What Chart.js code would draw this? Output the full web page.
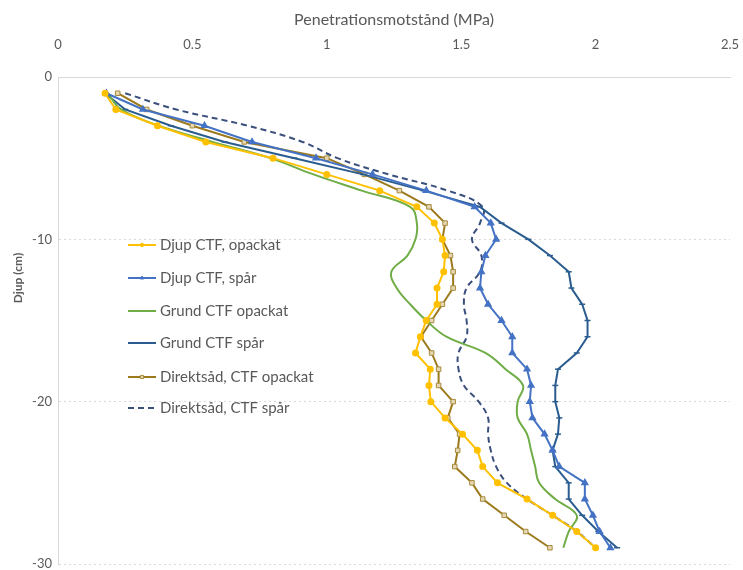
<!DOCTYPE html>
<html>
<head>
<meta charset="utf-8">
<script src="https://cdn.jsdelivr.net/npm/chart.js@4.4.0/dist/chart.umd.min.js"></script>
<style>
  html, body { margin: 0; padding: 0; background: #fff; }
  #wrap { width: 743px; height: 570px; }
</style>
</head>
<body>
<div id="wrap"><canvas id="penChart"></canvas></div>
<script>
// depth in cm (negative downwards)
const depths = [-1, -2, -3, -4, -5, -6, -7, -8, -9, -10, -11, -12, -13, -14, -15,
  -16, -17, -18, -19, -20, -21, -22, -23, -24, -25, -26, -27, -28, -29];

const seriesNames = ['Djup CTF, opackat', 'Djup CTF, spår', 'Grund CTF opackat',
  'Grund CTF spår', 'Direktsåd, CTF opackat', 'Direktsåd, CTF spår'];

const djupOpackat = [0.175, 0.215, 0.37, 0.55, 0.80, 1.00, 1.197, 1.335, 1.40, 1.43,
  1.44, 1.435, 1.41, 1.41, 1.37, 1.348, 1.33, 1.385, 1.38, 1.387,
  1.44, 1.505, 1.56, 1.58, 1.635, 1.745, 1.84, 1.93, 2.00];

const djupSpar = [0.18, 0.316, 0.545, 0.722, 0.96, 1.17, 1.37, 1.55, 1.61, 1.63,
  1.59, 1.575, 1.57, 1.60, 1.65, 1.69, 1.69, 1.745, 1.76, 1.755,
  1.765, 1.81, 1.84, 1.865, 1.96, 1.96, 1.99, 2.015, 2.055];

const grundOpackat = [0.185, 0.235, 0.375, 0.575, 0.79, 0.95, 1.13, 1.31, 1.335, 1.33,
  1.30, 1.24, 1.26, 1.31, 1.37, 1.445, 1.59, 1.665, 1.73, 1.71,
  1.71, 1.745, 1.76, 1.775, 1.79, 1.85, 1.93, 1.90, 1.88];

const grundSpar = [0.175, 0.25, 0.42, 0.62, 0.88, 1.135, 1.36, 1.57, 1.65, 1.75,
  1.83, 1.90, 1.91, 1.95, 1.97, 1.97, 1.93, 1.86, 1.85, 1.85,
  1.865, 1.86, 1.84, 1.85, 1.90, 1.90, 1.95, 2.01, 2.08];

const direktOpackat = [0.222, 0.33, 0.50, 0.693, 1.00, 1.14, 1.27, 1.38, 1.44, 1.43,
  1.46, 1.47, 1.47, 1.43, 1.39, 1.35, 1.39, 1.416, 1.416, 1.47,
  1.45, 1.494, 1.487, 1.476, 1.54, 1.58, 1.66, 1.74, 1.83];

const direktSpar = [0.25, 0.44, 0.705, 0.91, 1.04, 1.23, 1.45, 1.58, 1.57, 1.54,
  1.575, 1.57, 1.52, 1.51, 1.52, 1.52, 1.49, 1.49, 1.51, 1.565,
  1.60, 1.60, 1.61, 1.63, 1.67, 1.745, 1.84, 1.93, 2.00];

const xTicks = [0, 0.5, 1, 1.5, 2, 2.5];
const yTicks = [0, -10, -20, -30];

function toPoints(vals) {
  return vals.map((v, i) => ({ x: v, y: depths[i] }));
}

const textColor = '#595959';
const gridColor = '#d9d9d9';
const fontFam = 'Lato, "Open Sans", sans-serif';

// custom legend drawn inside the plot area, like the original
const insideLegend = {
  id: 'insideLegend',
  afterDraw(chart) {
    const ctx = chart.ctx;
    const rowsY = [245, 278, 311, 343, 377, 408];
    ctx.save();
    chart.data.datasets.forEach((ds, i) => {
      const y = rowsY[i];
      ctx.strokeStyle = ds.borderColor;
      ctx.lineWidth = ds.borderWidth;
      ctx.setLineDash(ds.borderDash || []);
      ctx.beginPath();
      ctx.moveTo(128, y);
      ctx.lineTo(156, y);
      ctx.stroke();
      ctx.setLineDash([]);
      if (ds.pointRadius > 0) {
        ctx.fillStyle = ds.pointBackgroundColor;
        ctx.strokeStyle = ds.pointBorderColor;
        ctx.lineWidth = 1;
        Chart.helpers.drawPoint(ctx, {
          pointStyle: ds.pointStyle,
          radius: ds.pointRadius * 0.7,
          borderWidth: 1,
          rotation: 0
        }, 142, y);
      }
      ctx.fillStyle = textColor;
      ctx.font = '15px ' + fontFam;
      ctx.textBaseline = 'middle';
      ctx.textAlign = 'left';
      ctx.fillText(ds.label, 160, y);
    });
    // y axis title placed where the original has it
    ctx.translate(18, 278);
    ctx.rotate(-Math.PI / 2);
    ctx.fillStyle = textColor;
    ctx.font = 'bold 12px ' + fontFam;
    ctx.textAlign = 'center';
    ctx.textBaseline = 'middle';
    ctx.fillText('Djup (cm)', 0, 0);
    ctx.restore();
  }
};

const ctx = document.getElementById('penChart').getContext('2d');

new Chart(ctx, {
  type: 'line',
  data: {
    datasets: [
      {
        label: seriesNames[0], data: toPoints(djupOpackat),
        borderColor: '#FFC000', backgroundColor: '#FFC000',
        pointBackgroundColor: '#FFC000', pointBorderColor: '#FFC000',
        pointStyle: 'circle', pointRadius: 2.5, borderWidth: 2, tension: 0
      },
      {
        label: seriesNames[1], data: toPoints(djupSpar),
        borderColor: '#4472C4', backgroundColor: '#4472C4',
        pointBackgroundColor: '#4472C4', pointBorderColor: '#4472C4',
        pointStyle: 'triangle', pointRadius: 2.8, borderWidth: 2, tension: 0
      },
      {
        label: seriesNames[2], data: toPoints(grundOpackat),
        borderColor: '#70AD47', backgroundColor: '#70AD47',
        pointRadius: 0, borderWidth: 2, tension: 0.4
      },
      {
        label: seriesNames[3], data: toPoints(grundSpar),
        borderColor: '#2A5C8F', backgroundColor: '#2A5C8F',
        pointBackgroundColor: '#2A5C8F', pointBorderColor: '#2A5C8F',
        pointStyle: 'line', pointRadius: 3, pointBorderWidth: 1.5, borderWidth: 2, tension: 0
      },
      {
        label: seriesNames[4], data: toPoints(direktOpackat),
        borderColor: '#9C7A1C', backgroundColor: '#9C7A1C',
        pointBackgroundColor: '#E4D8B4', pointBorderColor: '#A88A3C',
        pointStyle: 'rect', pointRadius: 3.2, pointBorderWidth: 1, borderWidth: 2, tension: 0
      },
      {
        label: seriesNames[5], data: toPoints(direktSpar),
        borderColor: '#3B4F7D', backgroundColor: '#3B4F7D',
        borderDash: [6, 4], pointRadius: 0, borderWidth: 2, tension: 0.4
      }
    ]
  },
  options: {
    responsive: true,
    maintainAspectRatio: false,
    animation: false,
    layout: {
      padding: 0
    },
    plugins: {
      legend: { display: false },
      tooltip: { enabled: false }
    },
    scales: {
      x: {
        type: 'linear',
        position: 'top',
        min: 0,
        max: 2.5,
        afterBuildTicks: (scale) => { scale.ticks = xTicks.map(v => ({ value: v })); },
        afterFit: (scale) => {
          scale.height = 77;
          scale.paddingLeft = 0;
          scale.paddingRight = 13;
        },
        grid: { display: false, drawTicks: false },
        border: { display: true, color: gridColor, width: 1 },
        ticks: {
          color: textColor, font: { family: fontFam, size: 13 }, padding: 24,
          callback: (v) => String(v)
        },
        title: {
          display: true,
          text: 'Penetrationsmotstånd (MPa)',
          color: textColor,
          font: { family: fontFam, size: 16 },
          padding: { top: 10, bottom: 0 }
        }
      },
      y: {
        type: 'linear',
        min: -30,
        max: 0,
        afterBuildTicks: (scale) => { scale.ticks = yTicks.map(v => ({ value: v })); },
        afterFit: (scale) => {
          scale.width = 58;
          scale.paddingTop = 0;
          scale.paddingBottom = 4;
        },
        grid: { color: gridColor, drawTicks: false, lineWidth: 1 },
        border: { display: true, color: gridColor, dash: [2, 3] },
        ticks: {
          color: textColor, font: { family: fontFam, size: 13 }, padding: 6,
          callback: (v) => String(v)
        }
      }
    }
  },
  plugins: [insideLegend]
});
</script>
</body>
</html>
